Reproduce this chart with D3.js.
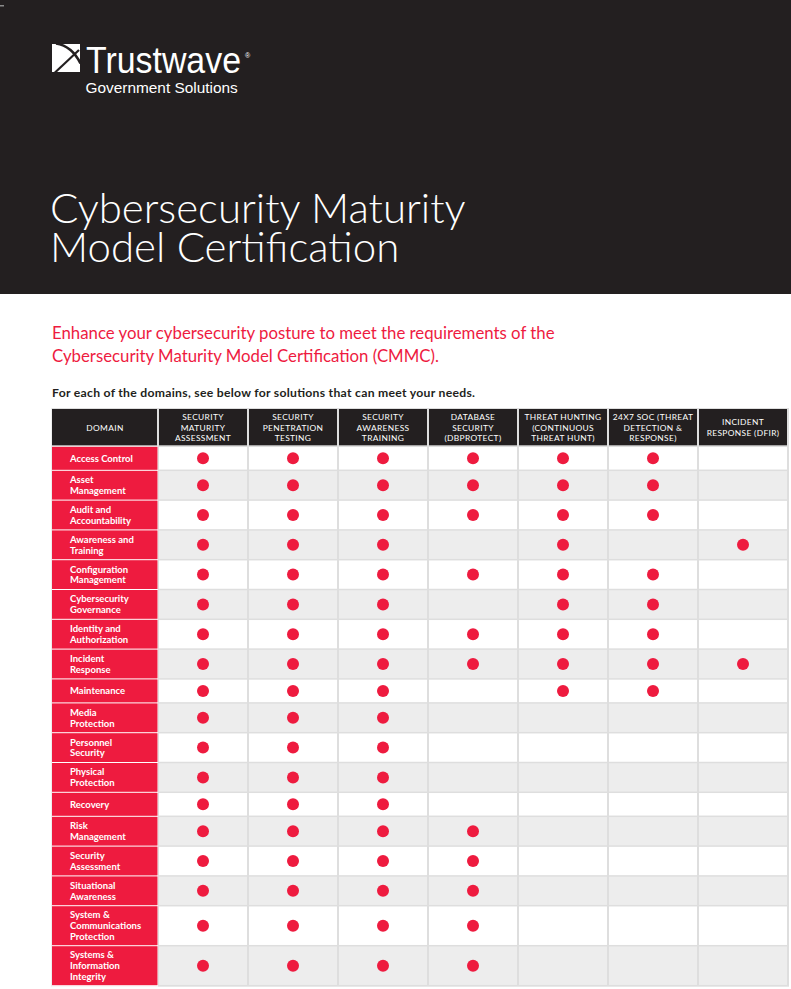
<!DOCTYPE html>
<html>
<head>
<meta charset="utf-8">
<script src="https://cdn.jsdelivr.net/npm/d3@7/dist/d3.min.js"></script>
<style>
  body { margin: 0; background: #fff; }
  svg { display: block; }
</style>
</head>
<body>
<svg id="page" width="791" height="989"></svg>
<script>
// brand / heading texts
var brandName = "Trustwave";
var brandSub = "Government Solutions";
var titleLines = ["Cybersecurity Maturity", "Model Certification"];
var introLines = ["Enhance your cybersecurity posture to meet the requirements of the",
                  "Cybersecurity Maturity Model Certification (CMMC)."];
var leadText = "For each of the domains, see below for solutions that can meet your needs.";

// table columns (header text, line breaks with |)
var domainHeader = "DOMAIN";
var services = [
  "SECURITY|MATURITY|ASSESSMENT",
  "SECURITY|PENETRATION|TESTING",
  "SECURITY|AWARENESS|TRAINING",
  "DATABASE|SECURITY|(DBPROTECT)",
  "THREAT HUNTING|(CONTINUOUS|THREAT HUNT)",
  "24X7 SOC (THREAT|DETECTION &|RESPONSE)",
  "INCIDENT|RESPONSE (DFIR)"
];

// table rows
var domains = [
  "Access Control",
  "Asset|Management",
  "Audit and|Accountability",
  "Awareness and|Training",
  "Configuration|Management",
  "Cybersecurity|Governance",
  "Identity and|Authorization",
  "Incident|Response",
  "Maintenance",
  "Media|Protection",
  "Personnel|Security",
  "Physical|Protection",
  "Recovery",
  "Risk|Management",
  "Security|Assessment",
  "Situational|Awareness",
  "System &|Communications|Protection",
  "Systems &|Information|Integrity"
];

// 1 = solution covers the domain, one array per domain, in service order
var coverage = [
  [1,1,1,1,1,1,0],
  [1,1,1,1,1,1,0],
  [1,1,1,1,1,1,0],
  [1,1,1,0,1,0,1],
  [1,1,1,1,1,1,0],
  [1,1,1,0,1,1,0],
  [1,1,1,1,1,1,0],
  [1,1,1,1,1,1,1],
  [1,1,1,0,1,1,0],
  [1,1,1,0,0,0,0],
  [1,1,1,0,0,0,0],
  [1,1,1,0,0,0,0],
  [1,1,1,0,0,0,0],
  [1,1,1,1,0,0,0],
  [1,1,1,1,0,0,0],
  [1,1,1,1,0,0,0],
  [1,1,1,1,0,0,0],
  [1,1,1,1,0,0,0]
];

var red = "#ee1b3f", dark = "#231f20", grid = "#dedede";
var svg = d3.select("#page");

// ---- dark banner
svg.append("rect").attr("width", 791).attr("height", 294).attr("fill", dark);
svg.append("rect").attr("x", 0).attr("y", 5).attr("width", 4).attr("height", 1.5).attr("fill", "#8a8a8a");

// logo mark: white square cut by an arc and a diagonal
var logo = svg.append("g");
logo.append("rect").attr("x", 52).attr("y", 44).attr("width", 28).attr("height", 28).attr("fill", "#fff");
logo.append("path").attr("d", "M56,43.5 Q72,46 80.5,63.5").attr("fill", "none")
  .attr("stroke", dark).attr("stroke-width", 2.6);
logo.append("path").attr("d", "M79,50 L54.5,73").attr("fill", "none")
  .attr("stroke", dark).attr("stroke-width", 2.2);

svg.append("text").attr("x", 86).attr("y", 72.5)
  .attr("font-family", "Liberation Sans, Arial, sans-serif").attr("font-size", 37.5)
  .attr("textLength", 155).attr("lengthAdjust", "spacingAndGlyphs")
  .attr("fill", "#fff").text(brandName);
svg.append("text").attr("x", 245).attr("y", 58)
  .attr("font-family", "Liberation Sans, Arial, sans-serif").attr("font-size", 7)
  .attr("fill", "#fff").text("\u00AE");
svg.append("text").attr("x", 85.5).attr("y", 92.7)
  .attr("font-family", "Liberation Sans, Arial, sans-serif").attr("font-size", 15.4)
  .attr("fill", "#fff").text(brandSub);

// title
svg.append("g").selectAll("text").data(titleLines).join("text")
  .attr("x", 50).attr("y", function(d, i) { return 222.7 + i * 39; })
  .attr("font-family", "Lato, sans-serif").attr("font-weight", 300).attr("font-size", 42)
  .attr("fill", "#fff").text(function(d) { return d; });

// red intro
svg.append("g").selectAll("text").data(introLines).join("text")
  .attr("x", 52).attr("y", function(d, i) { return 338.5 + i * 23.3; })
  .attr("font-family", "Lato, sans-serif").attr("font-weight", 400).attr("font-size", 16.8)
  .attr("fill", red).text(function(d) { return d; });

svg.append("text").attr("x", 52).attr("y", 397.3)
  .attr("font-family", "Lato, sans-serif").attr("font-weight", 700).attr("font-size", 12.2)
  .attr("textLength", 423).attr("lengthAdjust", "spacing")
  .attr("fill", dark).text(leadText);

// ---- table geometry
var left = 52, domRight = 158, right = 788, headTop = 409, headBottom = 446.3;
var x = d3.scaleBand().domain(d3.range(services.length)).range([domRight, right]);

var lineCount = domains.map(function(d) { return d.split("|").length; });
var rowH = lineCount.map(function(n) { return n === 1 ? 24 : n === 2 ? 29.8 : 40; });
var tops = [headBottom].concat(Array.from(d3.cumsum(rowH), function(c) { return headBottom + c; })).slice(0, domains.length);
var y = d3.scaleOrdinal().domain(domains).range(tops);
var h = d3.scaleOrdinal().domain(domains).range(rowH);
var bottom = tops[tops.length - 1] + rowH[rowH.length - 1];

// grid backdrop
svg.append("rect").attr("x", left - 0.5).attr("y", headTop - 1).attr("width", right - left + 1.5)
  .attr("height", bottom - headTop + 2).attr("fill", grid);
svg.append("rect").attr("x", left).attr("y", headBottom).attr("width", domRight - left)
  .attr("height", bottom - headBottom + 1).attr("fill", "#fff");

// header cells
var head = svg.append("g");
var headCols = [{ x0: left, x1: domRight, label: domainHeader }].concat(services.map(function(s, i) {
  return { x0: x(i), x1: x(i) + x.bandwidth(), label: s };
}));
head.selectAll("rect").data(headCols).join("rect")
  .attr("x", function(d, i) { return i === 0 ? d.x0 : d.x0 + 1; })
  .attr("y", headTop)
  .attr("width", function(d, i) { return i === 0 ? d.x1 - d.x0 - 1 : d.x1 - d.x0 - 2; })
  .attr("height", headBottom - headTop - 1)
  .attr("fill", dark);
var headMid = (headTop + headBottom) / 2;
head.selectAll("text").data(headCols).join("text")
  .attr("text-anchor", "middle")
  .attr("font-family", "Lato, sans-serif").attr("font-weight", 400).attr("font-size", 8.4)
  .attr("letter-spacing", 0.35)
  .attr("fill", "#fff")
  .each(function(d) {
    var lines = d.label.split("|"), cx = (d.x0 + d.x1) / 2, n = lines.length;
    d3.select(this).selectAll("tspan").data(lines).join("tspan")
      .attr("x", cx)
      .attr("y", function(l, i) { return headMid + 3 + (i - (n - 1) / 2) * 10.8; })
      .text(function(l) { return l; });
  });

// body rows
var rows = svg.append("g").selectAll("g").data(domains).join("g")
  .attr("transform", function(d) { return "translate(0," + y(d) + ")"; });

rows.selectAll("rect.cell").data(function(d, r) {
  return services.map(function(s, i) { return { r: r, i: i, d: d }; });
}).join("rect").attr("class", "cell")
  .attr("x", function(c) { return x(c.i) + 1; })
  .attr("y", 0.75)
  .attr("width", x.bandwidth() - 2)
  .attr("height", function(c) { return h(c.d) - 1.5; })
  .attr("fill", function(c) { return c.r % 2 ? "#ededed" : "#fff"; });

rows.append("rect")
  .attr("x", left).attr("y", 0.5)
  .attr("width", domRight - left - 0.5)
  .attr("height", function(d) { return h(d) - 1; })
  .attr("fill", red);

rows.append("text")
  .attr("font-family", "Lato, sans-serif").attr("font-weight", 700).attr("font-size", 9.5)
  .attr("fill", "#fff")
  .each(function(d) {
    var lines = d.split("|"), n = lines.length, mid = h(d) / 2;
    d3.select(this).selectAll("tspan").data(lines).join("tspan")
      .attr("x", 70)
      .attr("y", function(l, i) { return mid + 3.4 + (i - (n - 1) / 2) * 10.7; })
      .text(function(l) { return l; });
  });

rows.selectAll("circle").data(function(d, r) {
  return coverage[r].map(function(v, i) { return { v: v, i: i, d: d }; }).filter(function(c) { return c.v; });
}).join("circle")
  .attr("cx", function(c) { return x(c.i) + x.bandwidth() / 2; })
  .attr("cy", function(c) { return h(c.d) / 2; })
  .attr("r", 6)
  .attr("fill", red);
</script>
</body>
</html>
